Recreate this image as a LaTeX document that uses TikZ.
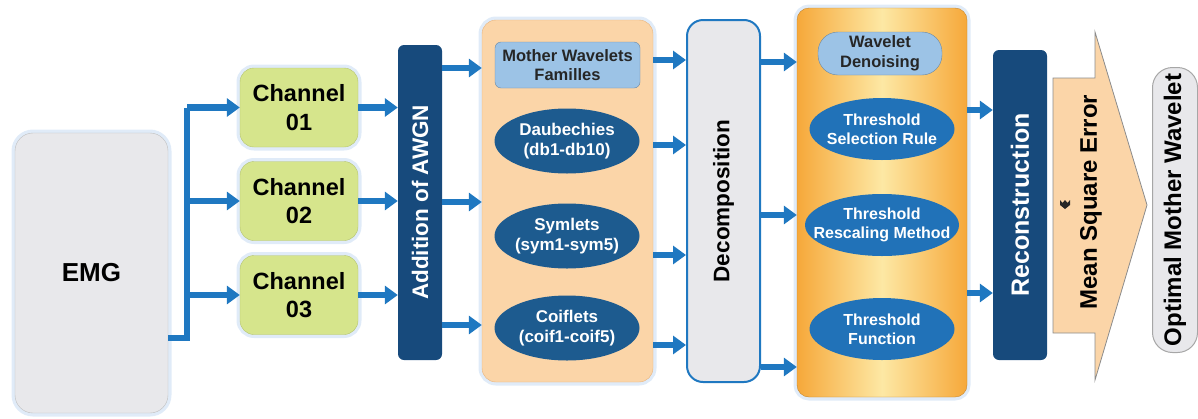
\documentclass[tikz,border=0pt]{standalone}
\usepackage{fontspec}
\setmainfont{Liberation Sans}
\usetikzlibrary{arrows.meta,shapes.geometric,positioning}

\definecolor{flowblue}{HTML}{1F78C1}
\definecolor{navy}{HTML}{174A7C}
\definecolor{ellleft}{HTML}{1D5B8F}
\definecolor{ellright}{HTML}{2172B8}
\definecolor{chgreen}{HTML}{D6E58C}
\definecolor{chborder}{HTML}{B5C46E}
\definecolor{panelorange}{HTML}{FBD5A8}
\definecolor{panelborder}{HTML}{E9B47C}
\definecolor{denedge}{HTML}{F6A83A}
\definecolor{dencenter}{HTML}{FDE8A4}
\definecolor{lightblue}{HTML}{9CC3E6}
\definecolor{greyfill}{HTML}{E8E8EB}
\definecolor{glowblue}{HTML}{D3E3F5}

\begin{document}
\begin{tikzpicture}[x=1pt,y=-1pt,
    txt/.style={font=\bfseries\pgfmathsetmacro\bsk{1.2*#1}\fontsize{#1}{\bsk}\selectfont, align=center},
    glow/.style={preaction={draw=glowblue, line width=7pt, opacity=0.7}},
    flow/.style={-{Triangle[length=13pt,width=18pt]}, line width=6.5pt, draw=flowblue},
    flowline/.style={line width=6.5pt, draw=flowblue},
    bar/.style={rounded corners=6pt, fill=navy, text=white, rotate=90, inner sep=0pt},
    chbox/.style={glow, rounded corners=14pt, fill=chgreen, draw=chborder, minimum width=118pt, minimum height=79pt, txt=23.5},
    famell/.style={ellipse, fill=ellleft, text=white, minimum width=145pt, minimum height=65pt, inner xsep=-10pt, inner ysep=-2pt, txt=17},
    denell/.style={ellipse, fill=ellright, text=white, minimum width=145pt, minimum height=62pt, inner xsep=-14pt, inner ysep=-3pt, txt=16},
    tagbox/.style={fill=lightblue, draw=lightblue!70!black, text=black!85, inner sep=0pt, txt=16.5}]

    \useasboundingbox (0,0) rectangle (1198,418);

    % Signal and channels
    \node[glow, rounded corners=18pt, fill=greyfill, draw=black!25, minimum width=153pt, minimum height=280pt, txt=26] (emg) at (91.5,273) {EMG};
    \node[chbox] (ch1) at (299,107.5) {Channel\\01};
    \node[chbox] (ch2) at (299,201) {Channel\\02};
    \node[chbox] (ch3) at (299,295) {Channel\\03};
    \coordinate (split) at (187,338);

    \node[bar, minimum width=315pt, minimum height=44pt, txt=22.5] (awgn) at (420,202.5) {Addition of AWGN};

    % Mother wavelet families
    \node[glow, rounded corners=14pt, fill=panelorange, draw=panelborder, minimum width=171pt, minimum height=362pt] (fam) at (567.5,201) {};
    \node[tagbox, rounded corners=6pt, minimum width=145pt, minimum height=46pt] (mwf) at (567.5,65) {Mother Wavelets\\Familles};
    \node[famell] (db) at (567,141) {Daubechies\\(db1-db10)};
    \node[famell] (sym) at (567,236) {Symlets\\(sym1-sym5)};
    \node[famell] (coif) at (567,328) {Coiflets\\(coif1-coif5)};

    \node[rounded corners=16pt, fill=greyfill, draw=flowblue, line width=2pt, rotate=90, minimum width=362pt, minimum height=73pt, inner sep=0pt, txt=22.5] (dec) at (723.5,201) {Decomposition};

    % Wavelet denoising
    \node[glow, rounded corners=12pt, left color=denedge, right color=denedge, middle color=dencenter, draw=denedge!80!black, minimum width=170pt, minimum height=389pt] (den) at (882,202.5) {};
    \node[tagbox, rounded corners=20pt, minimum width=124pt, minimum height=43pt] (wd) at (880,53.5) {Wavelet\\Denoising};
    \node[denell] (tsr) at (882,129) {Threshold\\Selection Rule};
    \node[denell] (trm) at (882,225) {Threshold\\Rescaling Method};
    \node[denell] (tf) at (882,329) {Threshold\\Function};

    \node[bar, minimum width=310pt, minimum height=54pt, txt=25] (rec) at (1020,205) {Reconstruction};

    % Error arrow and result
    \draw[fill=panelorange, draw=black!45, line width=0.8pt] (1053,78) -- (1095,78) -- (1095,32) -- (1147,205) -- (1095,380) -- (1095,333) -- (1053,333) -- cycle;
    \node[rotate=90, txt=24] (mse) at (1091,202) {Mean Square Error};
    \fill[black!85] (1060,200) -- (1062.5,203) -- (1065,200) -- (1067.5,203) -- (1070,200) -- (1070,205) -- (1065,209) -- (1060,205) -- cycle;
    \node[rounded corners=20pt, fill=greyfill, draw=black!35, line width=1pt, rotate=90, minimum width=285pt, minimum height=45pt, inner sep=0pt, txt=24] (omw) at (1175,210) {Optimal Mother Wavelet};

    % Connectors
    \draw[flowline] (emg.east |- split) -- (split) -- (split |- ch1);
    \foreach \c in {ch1,ch2,ch3} {
        \draw[flow] (split |- \c) -- (\c);
        \draw[flow] (\c.east) -- (\c.east -| awgn.north);
    }
    \foreach \y in {68,202,325}
        \draw[flow] (awgn.south |- 0,\y) -- (fam.west |- 0,\y);
    \foreach \y in {60,145,255,345}
        \draw[flow] (fam.east |- 0,\y) -- (dec.north |- 0,\y);
    \foreach \y in {62,215,367}
        \draw[flow] (dec.south |- 0,\y) -- (den.west |- 0,\y);
    \foreach \y in {110,293}
        \draw[flow] (den.east |- 0,\y) -- (rec.north |- 0,\y);

\end{tikzpicture}
\end{document}
